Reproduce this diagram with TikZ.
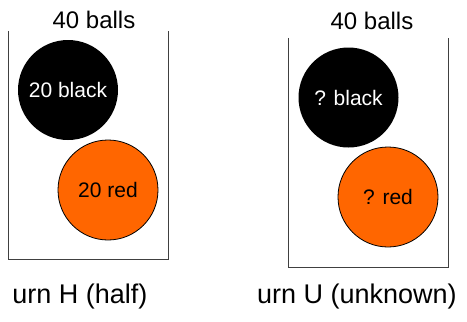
\documentclass[tikz,border=0pt]{standalone}
\usepackage{fontspec}
\setmainfont{Liberation Sans}
\definecolor{ballred}{RGB}{255,102,0}

\begin{document}
\begin{tikzpicture}[x=1pt,y=-1pt]
\tikzstyle{ball}=[circle, minimum size = 100pt, inner sep=0pt, font=\fontsize{21}{25}\selectfont]
\tikzstyle{blackball}=[ball, fill=black, text=white]
\tikzstyle{redball}=[ball, fill=ballred, draw=black, line width=0.8pt]
\tikzstyle{urn}=[rectangle, inner sep=0pt, minimum width=159pt]
\tikzstyle{side}=[line width=1.3pt, draw=black!75]
\tikzstyle{count}=[inner sep=0pt, font=\fontsize{24}{28}\selectfont]
\tikzstyle{caption}=[inner sep=0pt, font=\fontsize{27}{32}\selectfont]
\useasboundingbox (0,0) rectangle (467,322);

  % urn H
  \node[urn, minimum height=228pt] (h) at (88.5,145) {};
  \draw[side] (h.north west) -- (h.south west) -- (h.south east) -- (h.north east);
  \node[blackball] (hb) at (68,90) {20 black};
  \node[redball] (hr) at (108,190) {20 red};
  \node[count] (hn) at (94,20) {40 balls};
  \node[caption] (hl) at (80,297) {urn H (half)};

  % urn U
  \node[urn, minimum height=229pt] (u) at (368.5,152.5) {};
  \draw[side] (u.north west) -- (u.south west) -- (u.south east) -- (u.north east);
  \node[blackball] (ub) at (348.5,97.5) {? black};
  \node[redball] (ur) at (388,197) {? red};
  \node[count] (un) at (372,21) {40 balls};
  \node[caption] (ul) at (357,297) {urn U (unknown)};
\end{tikzpicture}
\end{document}
